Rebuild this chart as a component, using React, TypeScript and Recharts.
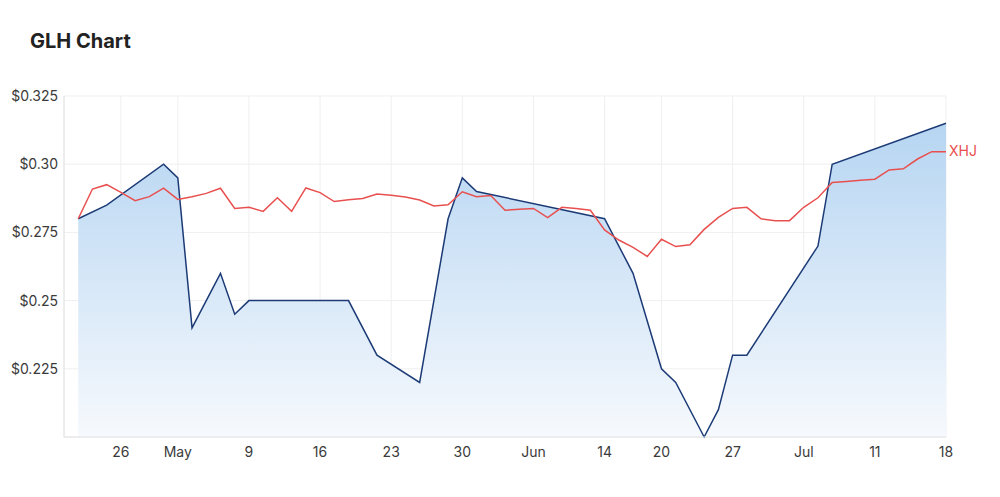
import { ComposedChart, Area, Line, XAxis, YAxis, CartesianGrid } from 'recharts';

// ASX trading days, 20 Apr - 18 Jul 2022
const dates = [
    '2022-04-20', '2022-04-21', '2022-04-22', '2022-04-26', '2022-04-27', '2022-04-28', '2022-04-29',
    '2022-05-02', '2022-05-03', '2022-05-04', '2022-05-05', '2022-05-06',
    '2022-05-09', '2022-05-10', '2022-05-11', '2022-05-12', '2022-05-13',
    '2022-05-16', '2022-05-17', '2022-05-18', '2022-05-19', '2022-05-20',
    '2022-05-23', '2022-05-24', '2022-05-25', '2022-05-26', '2022-05-27',
    '2022-05-30', '2022-05-31', '2022-06-01', '2022-06-02', '2022-06-03',
    '2022-06-06', '2022-06-07', '2022-06-08', '2022-06-09', '2022-06-10',
    '2022-06-14', '2022-06-15', '2022-06-16', '2022-06-17',
    '2022-06-20', '2022-06-21', '2022-06-22', '2022-06-23', '2022-06-24',
    '2022-06-27', '2022-06-28', '2022-06-29', '2022-06-30', '2022-07-01',
    '2022-07-04', '2022-07-05', '2022-07-06', '2022-07-07', '2022-07-08',
    '2022-07-11', '2022-07-12', '2022-07-13', '2022-07-14', '2022-07-15',
    '2022-07-18',
];

// GLH close, null where no trade
const glh = [
    0.28, null, 0.285, null, null, null, 0.30,
    0.295, 0.24, null, 0.26, 0.245,
    0.25, null, null, null, null,
    null, null, 0.25, null, 0.23,
    null, null, 0.22, null, 0.28,
    0.295, 0.29, null, null, null,
    null, null, null, null, null,
    0.28, null, 0.26, null,
    0.225, 0.22, null, 0.20, 0.21,
    0.23, 0.23, null, null, null,
    null, 0.27, 0.30, null, null,
    null, null, null, null, null,
    0.315,
];

// XHJ rebased to GLH start price
const xhj = [
    0.28, 0.2909, 0.2925, 0.2897, 0.2866, 0.2881, 0.2912,
    0.2871, 0.2881, 0.2893, 0.2912, 0.2838,
    0.2842, 0.2827, 0.2877, 0.2827, 0.2913,
    0.2896, 0.2863, 0.287, 0.2874, 0.2891,
    0.2886, 0.288, 0.2869, 0.2847, 0.2851,
    0.2899, 0.2881, 0.2885, 0.2831, 0.2835,
    0.2838, 0.2804, 0.2842, 0.2838, 0.2831,
    0.2759, 0.2722, 0.2695, 0.2662,
    0.2725, 0.2698, 0.2705, 0.2761, 0.2805,
    0.2838, 0.2842, 0.28, 0.2793, 0.2793,
    0.2842, 0.2877, 0.2933, 0.2937, 0.2941,
    0.2945, 0.2979, 0.2983, 0.3019, 0.3046,
    0.3046,
];

const xTicks = [3, 7, 12, 17, 22, 27, 32, 37, 41, 46, 51, 56, 61];
const xTickLabels = ['26', 'May', '9', '16', '23', '30', 'Jun', '14', '20', '27', 'Jul', '11', '18'];
const yTicks = [0.225, 0.25, 0.275, 0.3, 0.325];

const data = dates.map((date, i) => ({ i, date, glh: glh[i], xhj: xhj[i] }));

const FONT = 'Inter, "Noto Sans", sans-serif';

const fmtPrice = (v: number) => {
    const s = v.toFixed(3);
    return '$' + (s.endsWith('0') ? s.slice(0, -1) : s);
};

const XhjLabel = (props: any) => {
    const { x, y, index } = props;
    if (index !== data.length - 1) return null;
    return (
        <text x={x + 3} y={y - 1} dominantBaseline="central" fill="#e8504f" fontSize={14} fontFamily={FONT}>
            XHJ
        </text>
    );
};

export default function App() {
    return (
        <div style={{ position: 'relative', width: 1000, height: 497, fontFamily: FONT, background: '#fff' }}>
            <style>{'body{margin:0}'}</style>
            <div style={{ position: 'absolute', left: 30, top: 29, fontSize: 20, fontWeight: 700, color: '#222' }}>
                GLH Chart
            </div>
            <ComposedChart width={1000} height={497} data={data} margin={{ top: 96, right: 54, bottom: 30, left: 0 }}>
                <defs>
                    <linearGradient id="glhFill" x1="0" y1="0" x2="0" y2="1">
                        <stop offset="0%" stopColor="#b6d5f2" stopOpacity={1} />
                        <stop offset="100%" stopColor="#f6f9fd" stopOpacity={1} />
                    </linearGradient>
                </defs>
                <CartesianGrid stroke="#efefef" />
                <XAxis
                    type="number"
                    dataKey="i"
                    domain={[-1, 61]}
                    ticks={xTicks}
                    tickFormatter={(v) => xTickLabels[xTicks.indexOf(v)]}
                    interval={0}
                    tickSize={0}
                    tickMargin={10}
                    height={30}
                    axisLine={{ stroke: '#e2e2e2' }}
                    tick={{ fontSize: 14, fill: '#3a3a3a', fontFamily: FONT }}
                />
                <YAxis
                    type="number"
                    domain={[0.2, 0.325]}
                    ticks={yTicks}
                    tickFormatter={fmtPrice}
                    width={64}
                    tickSize={0}
                    tickMargin={6}
                    axisLine={{ stroke: '#e2e2e2' }}
                    tick={{ fontSize: 14, fill: '#3a3a3a', fontFamily: FONT }}
                />
                <Area
                    type="linear"
                    dataKey="glh"
                    connectNulls
                    stroke="#1c3b76"
                    strokeWidth={1.5}
                    fill="url(#glhFill)"
                    fillOpacity={1}
                    dot={false}
                    activeDot={false}
                    isAnimationActive={false}
                />
                <Line
                    type="linear"
                    dataKey="xhj"
                    stroke="#e8504f"
                    strokeWidth={1.5}
                    dot={false}
                    activeDot={false}
                    label={<XhjLabel />}
                    isAnimationActive={false}
                />
            </ComposedChart>
        </div>
    );
}
